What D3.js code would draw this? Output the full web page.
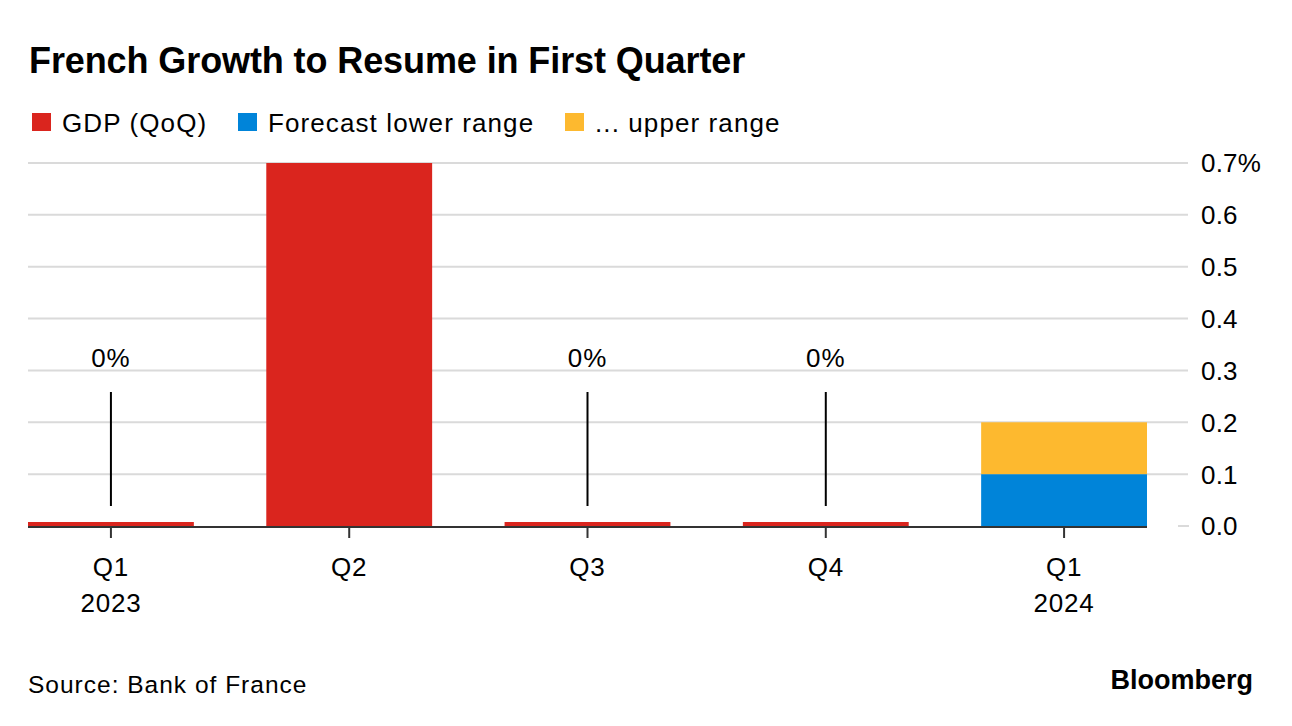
<!DOCTYPE html>
<html>
<head>
<meta charset="utf-8">
<script src="https://cdn.jsdelivr.net/npm/d3@7"></script>
<style>
  html, body { margin: 0; padding: 0; background: #fff; }
  svg { display: block; font-family: "Liberation Sans", Arial, sans-serif; }
</style>
</head>
<body>
<svg id="chart" width="1292" height="726"></svg>
<script>
// ---- data ----
const quarters = ["Q1", "Q2", "Q3", "Q4", "Q1"];
const years = ["2023", "", "", "", "2024"];
const gdp = [0, 0.7, 0, 0, null];
const forecastLower = [null, null, null, null, 0.1];
const forecastUpper = [null, null, null, null, 0.2];
const zeroLabels = ["0%", "", "0%", "0%", ""];
const yTicks = [0, 0.1, 0.2, 0.3, 0.4, 0.5, 0.6, 0.7];
const yTickLabels = ["0.0", "0.1", "0.2", "0.3", "0.4", "0.5", "0.6", "0.7%"];
const legendItems = ["GDP (QoQ)", "Forecast lower range", "... upper range"];

const colors = { gdp: "#da251e", lower: "#0084d9", upper: "#fdb92f" };
const legendColors = [colors.gdp, colors.lower, colors.upper];

const svg = d3.select("#chart");
const idx = d3.range(quarters.length);

const x = d3.scaleBand().domain(idx).range([28, 1147]).paddingInner(0.304).paddingOuter(0);
const y = d3.scaleLinear().domain([0, 0.7]).range([526, 163]);

// title
svg.append("text").attr("x", 29).attr("y", 73)
  .attr("font-size", 36).attr("font-weight", 700).attr("letter-spacing", -0.1)
  .attr("fill", "#000").text("French Growth to Resume in First Quarter");

// legend
const legX = [32, 238, 565];
legendItems.forEach((t, i) => {
  svg.append("rect").attr("x", legX[i]).attr("y", 113).attr("width", 19).attr("height", 18)
    .attr("fill", legendColors[i]);
  svg.append("text").attr("x", legX[i] + 30).attr("y", 132)
    .attr("font-size", 26).attr("letter-spacing", 1.1).attr("fill", "#000").text(t);
});

// gridlines (non-zero)
svg.append("g").selectAll("line").data(yTicks.filter(d => d > 0)).join("line")
  .attr("x1", 28).attr("x2", 1188)
  .attr("y1", d => y(d)).attr("y2", d => y(d))
  .attr("stroke", "#dadada").attr("stroke-width", 2);
// zero tick
svg.append("line").attr("x1", 1178).attr("x2", 1189).attr("y1", y(0)).attr("y2", y(0))
  .attr("stroke", "#dadada").attr("stroke-width", 2);

// y labels
svg.append("g").selectAll("text").data(yTicks).join("text")
  .attr("x", 1201).attr("y", d => y(d)).attr("dy", "0.36em")
  .attr("font-size", 26).attr("letter-spacing", 0.2).attr("fill", "#000")
  .text((d, i) => yTickLabels[i]);

// baseline
svg.append("line").attr("x1", 28).attr("x2", 1147).attr("y1", y(0) + 1).attr("y2", y(0) + 1)
  .attr("stroke", "#333").attr("stroke-width", 2);

// x ticks
svg.append("g").selectAll("line").data(idx).join("line")
  .attr("x1", d => x(d) + x.bandwidth() / 2).attr("x2", d => x(d) + x.bandwidth() / 2)
  .attr("y1", y(0) + 2).attr("y2", y(0) + 12)
  .attr("stroke", "#333").attr("stroke-width", 2);

// GDP bars (zero values shown as thin minimum bar)
svg.append("g").selectAll("rect").data(idx.filter(i => gdp[i] !== null)).join("rect")
  .attr("x", i => x(i)).attr("width", x.bandwidth())
  .attr("y", i => Math.min(y(gdp[i]), y(0) - 4))
  .attr("height", i => Math.max(y(0) - y(gdp[i]), 4))
  .attr("fill", colors.gdp);

// forecast stacked
idx.filter(i => forecastLower[i] !== null).forEach(i => {
  svg.append("rect").attr("x", x(i)).attr("width", x.bandwidth())
    .attr("y", y(forecastLower[i])).attr("height", y(0) - y(forecastLower[i]))
    .attr("fill", colors.lower);
  svg.append("rect").attr("x", x(i)).attr("width", x.bandwidth())
    .attr("y", y(forecastUpper[i])).attr("height", y(forecastLower[i]) - y(forecastUpper[i]))
    .attr("fill", colors.upper);
});

// zero annotations
idx.filter(i => zeroLabels[i]).forEach(i => {
  const cx = x(i) + x.bandwidth() / 2;
  svg.append("line").attr("x1", cx).attr("x2", cx).attr("y1", 392).attr("y2", 506)
    .attr("stroke", "#000").attr("stroke-width", 2);
  svg.append("text").attr("x", cx).attr("y", 367).attr("text-anchor", "middle")
    .attr("font-size", 26).attr("letter-spacing", 1).attr("fill", "#000").text(zeroLabels[i]);
});

// x labels
idx.forEach(i => {
  const cx = x(i) + x.bandwidth() / 2;
  svg.append("text").attr("x", cx).attr("y", 576).attr("text-anchor", "middle")
    .attr("font-size", 26).attr("letter-spacing", 0.8).attr("fill", "#000").text(quarters[i]);
  if (years[i]) {
    svg.append("text").attr("x", cx).attr("y", 612).attr("text-anchor", "middle")
      .attr("font-size", 26).attr("letter-spacing", 0.8).attr("fill", "#000").text(years[i]);
  }
});

// footer
svg.append("text").attr("x", 28).attr("y", 693)
  .attr("font-size", 24.5).attr("letter-spacing", 1).attr("fill", "#000").text("Source: Bank of France");
svg.append("text").attr("x", 1253).attr("y", 689).attr("text-anchor", "end")
  .attr("font-size", 27).attr("font-weight", 700).attr("fill", "#000").text("Bloomberg");
</script>
</body>
</html>
